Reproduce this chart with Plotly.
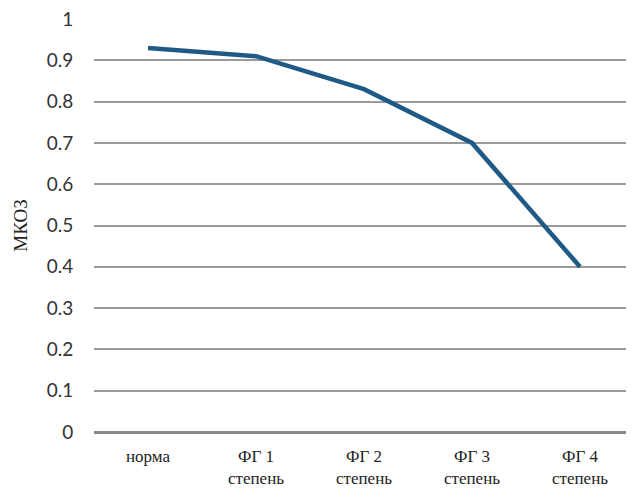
import plotly.graph_objects as go

categories = ["норма", "ФГ 1<br>степень", "ФГ 2<br>степень", "ФГ 3<br>степень", "ФГ 4<br>степень"]
values = [0.93, 0.91, 0.83, 0.70, 0.40]
y_ticks = [0, 0.1, 0.2, 0.3, 0.4, 0.5, 0.6, 0.7, 0.8, 0.9, 1]
y_tick_labels = ["0", "0.1", "0.2", "0.3", "0.4", "0.5", "0.6", "0.7", "0.8", "0.9", "1"]

fig = go.Figure()
fig.add_trace(go.Scatter(
    x=categories, y=values, mode="lines",
    line=dict(color="#1f5a87", width=4.5),
    showlegend=False,
))

fig.update_layout(
    width=626, height=482,
    margin=dict(l=86, r=0, t=11, b=58),
    paper_bgcolor="white", plot_bgcolor="white",
    xaxis=dict(
        type="category", range=[-0.5, 4.5], automargin=False,
        showgrid=False, showline=False, zeroline=False,
        ticks="", ticklabelstandoff=12,
        tickfont=dict(family="Liberation Serif", size=17, color="#222"),
    ),
    yaxis=dict(
        range=[0, 1.0], automargin=False,
        tickvals=y_ticks, ticktext=y_tick_labels,
        showgrid=True, gridcolor="#9a9a9a", gridwidth=1.5,
        zeroline=True, zerolinecolor="#888", zerolinewidth=2.5,
        showline=False, ticks="outside", ticklen=16, tickcolor="rgba(0,0,0,0)",
        ticklabeloverflow="allow",
        tickfont=dict(family="Lato", size=19, color="#333"),
        title=dict(text="МКОЗ", font=dict(family="Liberation Serif", size=19, color="#222"), standoff=14),
    ),
)

fig.write_html("out.html")
